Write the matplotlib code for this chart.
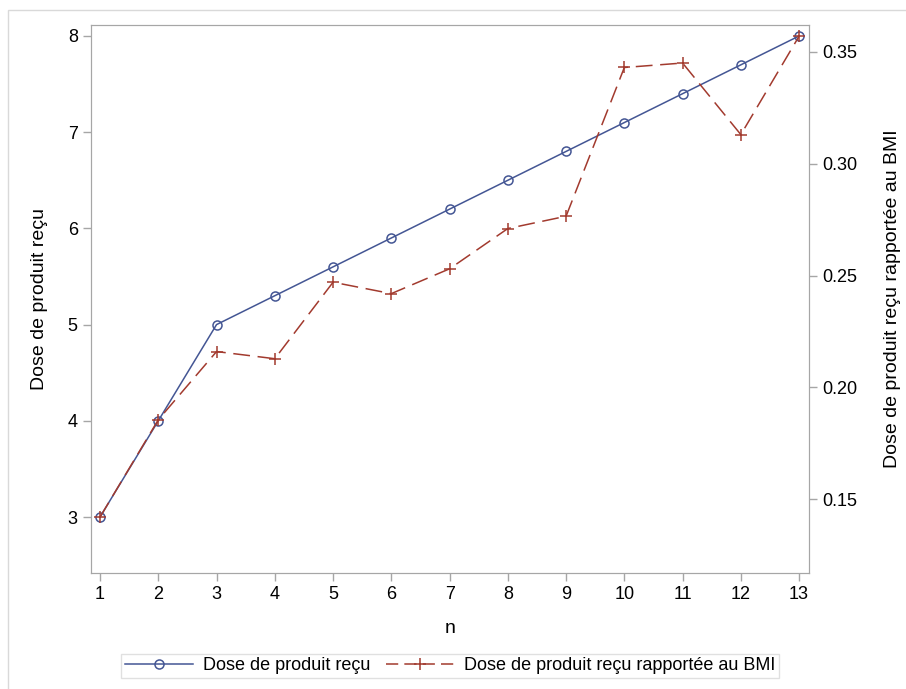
import matplotlib.pyplot as plt
from matplotlib.lines import Line2D
from matplotlib.patches import Rectangle

plt.rcParams['font.family'] = ['Liberation Sans', 'DejaVu Sans']

n = list(range(1, 14))
dose = [3.0, 4.0, 5.0, 5.3, 5.6, 5.9, 6.2, 6.5, 6.8, 7.1, 7.4, 7.7, 8.0]
dose_bmi = [0.142, 0.1855, 0.216, 0.2128, 0.247, 0.2419, 0.253, 0.271,
            0.2765, 0.343, 0.345, 0.313, 0.357]

blue = '#445694'
red = '#A23A2E'
gray = '#A6A6A6'

fig = plt.figure(figsize=(9.06, 6.89), dpi=100)
fig.patches.append(Rectangle((8 / 906, -0.01), 1.0, 1 - 10 / 689 + 0.01,
                             transform=fig.transFigure, fill=False,
                             edgecolor='#D9D9D9', lw=1))

ax = fig.add_axes([91 / 906, 1 - 573 / 689, 718 / 906, 548 / 689])
ax2 = ax.twinx()

ax.plot(n, dose, color=blue, lw=1.1, marker='o', ms=6.5, mfc='none', mec=blue, mew=1.1)
ax2.plot(n, dose_bmi, color=red, lw=1.1, ls=(0, (11, 5)), marker='+', ms=9, mew=1.1)

ax.set_xlim(0.845, 13.17)
ax.set_ylim(2.418, 8.114)
ax2.set_ylim(0.117, 0.362)
ax.set_xticks(n)
ax.set_yticks([3, 4, 5, 6, 7, 8])
ax2.set_yticks([0.15, 0.20, 0.25, 0.30, 0.35])
ax2.set_yticklabels(['0.15', '0.20', '0.25', '0.30', '0.35'])

for a in (ax, ax2):
    for s in a.spines.values():
        s.set_color(gray)
    a.tick_params(colors=gray, labelcolor='black', labelsize=13, length=6, width=1)

ax.set_xlabel('n', fontsize=14, labelpad=12)
ax.set_ylabel('Dose de produit reçu', fontsize=14, labelpad=14)
ax2.set_ylabel('Dose de produit reçu rapportée au BMI', fontsize=14, labelpad=19)

handles = [Line2D([], [], color=blue, lw=1.1, marker='o', ms=6.5, mfc='none', mew=1.1),
           Line2D([], [], color=red, lw=1.1, ls=(0, (8, 4)), marker='+', ms=9, mew=1.1)]
leg = fig.legend(handles, ['Dose de produit reçu', 'Dose de produit reçu rapportée au BMI'],
                 loc='center', bbox_to_anchor=(450 / 906, 1 - 666 / 689), ncol=2,
                 fontsize=13, frameon=True, fancybox=False, handlelength=3.8,
                 columnspacing=0.9, handletextpad=0.5, borderpad=0.2)
leg.get_frame().set_edgecolor('#D9D9D9')
leg.get_frame().set_linewidth(1)

fig.savefig('out.png', dpi=100)
